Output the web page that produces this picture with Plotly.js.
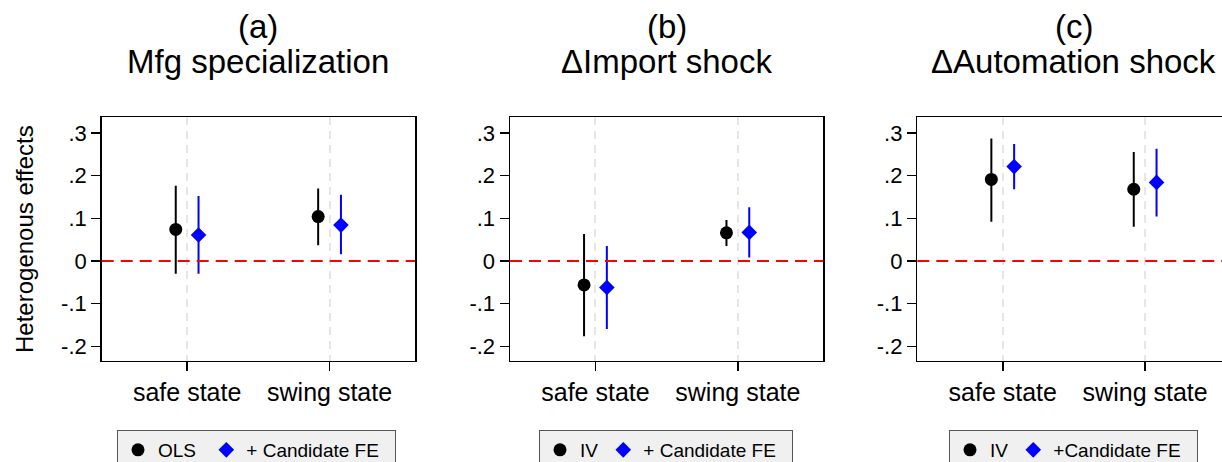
<!DOCTYPE html>
<html>
<head>
<meta charset="utf-8">
<script src="https://cdn.plot.ly/plotly-3.0.1.min.js"></script>
<style>
  html, body { margin: 0; padding: 0; overflow: hidden; background: #fff; }
  #chart { width: 1232px; height: 490px; }
</style>
</head>
<body>
<div id="chart"></div>
<script>
// Category axis
const categories = ['safe state', 'swing state'];
const categoryPos = [1, 2];

// Panel headings
const panelLetters = ['(a)', '(b)', '(c)'];
const panelTitles = ['Mfg specialization', '\u0394Import shock', '\u0394Automation shock'];

// Legend labels per panel
const baseNames = ['OLS\u00a0', 'IV', 'IV'];
const feNames = ['+ Candidate FE\u00a0\u00a0', '+ Candidate FE\u00a0\u00a0', '+Candidate FE\u00a0\u00a0'];

// y ticks
const yTickVals = [-0.2, -0.1, 0, 0.1, 0.2, 0.3];
const yTickText = ['-.2', '-.1', '0', '.1', '.2', '.3'];

// (a) Mfg specialization: [safe, swing]
const mfgBase   = [0.074, 0.104];
const mfgBaseLo = [-0.030, 0.037];
const mfgBaseHi = [0.176, 0.170];
const mfgFe     = [0.061, 0.084];
const mfgFeLo   = [-0.030, 0.016];
const mfgFeHi   = [0.152, 0.155];

// (b) Import shock
const impBase   = [-0.056, 0.066];
const impBaseLo = [-0.176, 0.035];
const impBaseHi = [0.063, 0.096];
const impFe     = [-0.062, 0.067];
const impFeLo   = [-0.159, 0.008];
const impFeHi   = [0.035, 0.126];

// (c) Automation shock
const autBase   = [0.191, 0.168];
const autBaseLo = [0.092, 0.080];
const autBaseHi = [0.287, 0.255];
const autFe     = [0.221, 0.184];
const autFeLo   = [0.168, 0.104];
const autFeHi   = [0.274, 0.263];

const panels = [
  { base: mfgBase, baseLo: mfgBaseLo, baseHi: mfgBaseHi, fe: mfgFe, feLo: mfgFeLo, feHi: mfgFeHi },
  { base: impBase, baseLo: impBaseLo, baseHi: impBaseHi, fe: impFe, feLo: impFeLo, feHi: impFeHi },
  { base: autBase, baseLo: autBaseLo, baseHi: autBaseHi, fe: autFe, feLo: autFeLo, feHi: autFeHi }
];

// canvas is a little larger than the visible window; the overflow is clipped
const W = 1232, H = 490;
const FONT = 'Liberation Sans, Arial, Helvetica, sans-serif';
// plot boxes in pixels from the top-left: [left, right]
const boxX = [[101.7, 415], [510, 823.3], [917.3, 1230.6]];
const boxTop = 117, boxBottom = 360.7;
const legendLeft = [117, 539, 949];
const legendTop = 430;
const dodge = 0.08;

const px = (v) => v / W;
const py = (v) => 1 - v / H;

const traces = [];
const layout = {
  width: W, height: H,
  margin: { l: 0, r: 0, t: 0, b: 0 },
  paper_bgcolor: '#fff', plot_bgcolor: '#fff',
  font: { family: FONT, color: '#000' },
  showlegend: true,
  annotations: [],
  shapes: []
};

const shiftX = (d) => categoryPos.map(p => p + d);
const upper = (est, hi) => est.map((v, i) => hi[i] - v);
const lower = (est, lo) => est.map((v, i) => v - lo[i]);

panels.forEach((p, k) => {
  const sfx = k === 0 ? '' : String(k + 1);
  const xa = 'x' + sfx, ya = 'y' + sfx;
  const legendId = 'legend' + sfx;

  traces.push({
    type: 'scatter', mode: 'markers', name: baseNames[k],
    x: shiftX(-dodge), y: p.base, xaxis: xa, yaxis: ya, legend: legendId,
    marker: { symbol: 'circle', size: 13, color: '#000' },
    error_y: { type: 'data', symmetric: false, array: upper(p.base, p.baseHi),
               arrayminus: lower(p.base, p.baseLo), color: '#000', thickness: 2, width: 0 },
    hoverinfo: 'skip'
  });
  traces.push({
    type: 'scatter', mode: 'markers', name: feNames[k],
    x: shiftX(dodge), y: p.fe, xaxis: xa, yaxis: ya, legend: legendId,
    marker: { symbol: 'diamond', size: 12, color: '#0000ff' },
    error_y: { type: 'data', symmetric: false, array: upper(p.fe, p.feHi),
               arrayminus: lower(p.fe, p.feLo), color: '#0000ff', thickness: 2, width: 0 },
    hoverinfo: 'skip'
  });

  layout['xaxis' + sfx] = {
    domain: [px(boxX[k][0]), px(boxX[k][1])],
    anchor: ya,
    range: [0.4, 2.6],
    tickmode: 'array', tickvals: categoryPos, ticktext: categories,
    ticks: 'outside', ticklen: 9, tickwidth: 1.5, tickcolor: '#000',
    tickfont: { family: FONT, size: 25, color: '#000' },
    showgrid: true, gridcolor: '#e6e6e6', gridwidth: 2, griddash: '8px,6px',
    zeroline: false,
    showline: true, mirror: true, linecolor: '#000', linewidth: 1.5,
    fixedrange: true
  };
  layout['yaxis' + sfx] = {
    domain: [py(boxBottom), py(boxTop)],
    anchor: xa,
    range: [-0.2335, 0.3372],
    tickmode: 'array', tickvals: yTickVals, ticktext: yTickText,
    ticks: 'outside', ticklen: 9, tickwidth: 1.5, tickcolor: '#000',
    tickfont: { family: FONT, size: 22, color: '#000' },
    showgrid: false, zeroline: false,
    showline: true, mirror: true, linecolor: '#000', linewidth: 1.5,
    fixedrange: true
  };

  layout[legendId] = {
    orientation: 'h',
    x: px(legendLeft[k]), xanchor: 'left',
    y: py(legendTop), yanchor: 'top',
    bgcolor: '#f0f0f0', bordercolor: '#555', borderwidth: 1,
    font: { family: FONT, size: 19, color: '#000' },
    itemclick: false, itemdoubleclick: false
  };

  // red dashed reference line at zero
  layout.shapes.push({
    type: 'line', xref: xa + ' domain', yref: ya, x0: 0, x1: 1, y0: 0, y1: 0,
    line: { color: '#ff0000', width: 2, dash: '12px,7px' }
  });

  const cx = px((boxX[k][0] + boxX[k][1]) / 2);
  layout.annotations.push({
    xref: 'paper', yref: 'paper', x: cx, y: py(27), xanchor: 'center', yanchor: 'middle',
    text: panelLetters[k], showarrow: false, font: { family: FONT, size: 33, color: '#000' }
  });
  layout.annotations.push({
    xref: 'paper', yref: 'paper', x: cx, y: py(62), xanchor: 'center', yanchor: 'middle',
    text: panelTitles[k], showarrow: false, font: { family: FONT, size: 33, color: '#000' }
  });
});

// y-axis title for the first panel
layout.annotations.push({
  xref: 'paper', yref: 'paper', x: px(24), y: py(239), xanchor: 'center', yanchor: 'middle',
  text: 'Heterogenous effects', textangle: -90, showarrow: false,
  font: { family: FONT, size: 24, color: '#000' }
});

Plotly.newPlot('chart', traces, layout, { displayModeBar: false, staticPlot: true });
</script>
</body>
</html>
